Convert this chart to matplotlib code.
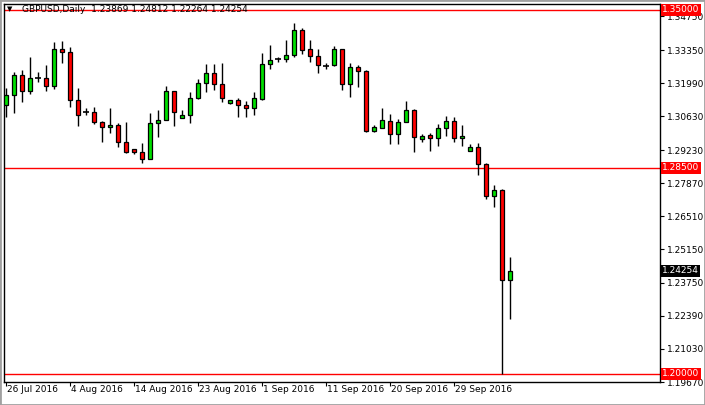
import matplotlib
matplotlib.use("Agg")
import matplotlib.pyplot as plt

opens = [1.3109,1.3150,1.3232,1.3166,1.3220,1.3220,1.3187,1.3339,1.3327,1.3129,1.3080,1.3080,1.3039,1.3018,1.3026,1.2956,
         1.2927,1.2915,1.2886,1.3034,1.3047,1.3166,1.3055,1.3067,1.3137,1.3199,1.3240,1.3195,1.3117,1.3129,1.3109,1.3096,
         1.3133,1.3278,1.3298,1.3298,1.3315,1.3418,1.3339,1.3310,1.3269,1.3273,1.3339,1.3195,1.3265,1.3249,1.3001,1.3014,
         1.3043,1.2989,1.3039,1.3088,1.2969,1.2985,1.2973,1.3014,1.3043,1.2973,1.2919,1.2936,1.2866,1.2734,1.2758,1.23869]
highs = [1.3179,1.3245,1.3253,1.3306,1.3245,1.3273,1.3368,1.3372,1.3348,1.3179,1.3096,1.3100,1.3041,1.3096,1.3034,1.3039,
         1.2929,1.2952,1.3076,1.3088,1.3187,1.3168,1.3088,1.3162,1.3216,1.3278,1.3278,1.3282,1.3130,1.3137,1.3125,1.3162,
         1.3323,1.3356,1.3306,1.3376,1.3446,1.3426,1.3376,1.3339,1.3282,1.3352,1.3341,1.3282,1.3273,1.3253,1.3026,1.3096,
         1.3072,1.3051,1.3125,1.3092,1.2989,1.2993,1.3030,1.3063,1.3059,1.3026,1.2948,1.2952,1.2868,1.2779,1.2762,1.24812]
lows = [1.3059,1.3076,1.3121,1.3154,1.3203,1.3166,1.3175,1.3282,1.3100,1.3022,1.3067,1.3030,1.2956,1.2993,1.2936,1.2911,
        1.2907,1.2870,1.2884,1.2977,1.3045,1.3022,1.3053,1.3034,1.3133,1.3162,1.3170,1.3121,1.3113,1.3059,1.3059,1.3067,
        1.3131,1.3257,1.3286,1.3286,1.3306,1.3319,1.3286,1.3240,1.3257,1.3271,1.3170,1.3142,1.3183,1.2997,1.2999,1.3012,
        1.2948,1.2948,1.3037,1.2915,1.2956,1.2919,1.2940,1.2981,1.2956,1.2940,1.2917,1.2820,1.2721,1.2688,1.1998,1.22264]
closes = [1.3150,1.3232,1.3166,1.3220,1.3222,1.3187,1.3339,1.3327,1.3129,1.3067,1.3078,1.3039,1.3018,1.3026,1.2956,1.2915,
          1.2915,1.2886,1.3034,1.3047,1.3166,1.3080,1.3067,1.3137,1.3199,1.3240,1.3195,1.3137,1.3129,1.3109,1.3096,1.3137,
          1.3278,1.3294,1.3296,1.3315,1.3418,1.3335,1.3310,1.3273,1.3267,1.3339,1.3195,1.3265,1.3249,1.3001,1.3018,1.3047,
          1.2989,1.3039,1.3088,1.2977,1.2981,1.2973,1.3014,1.3043,1.2973,1.2981,1.2936,1.2866,1.2734,1.2758,1.2387,1.24254]
date_labels = ["26 Jul 2016","4 Aug 2016","14 Aug 2016","23 Aug 2016","1 Sep 2016","11 Sep 2016","20 Sep 2016","29 Sep 2016"]
date_idx = [0,8,16,24,32,40,48,56]
price_ticks = [1.34750,1.33350,1.31990,1.30630,1.29230,1.27870,1.26510,1.25150,1.23750,1.22390,1.21030,1.19670]
levels = [1.35000,1.28500,1.20000]
last_price = 1.24254

W, H = 705, 405
fig = plt.figure(figsize=(W/100, H/100), dpi=100)
fig.patch.set_facecolor("white")
# grey window frame
fig.add_artist(plt.Rectangle((0, 0), 1, 1, transform=fig.transFigure, fill=False, ec="#a0a0a0", lw=2))
ax = fig.add_axes([4/W, (H-382)/H, 656/W, 378/H])
ax.set_xlim(-0.25, 81.75)
ax.set_ylim(1.19674, 1.35247)

n = len(opens)
for i in range(n):
    o, h, l, c = opens[i], highs[i], lows[i], closes[i]
    ax.vlines(i, l, h, color="black", lw=1, zorder=2)
    bot, top = min(o, c), max(o, c)
    if top - bot < 0.0003:
        ax.hlines((o+c)/2, i-0.35, i+0.35, color="black", lw=1.2, zorder=3)
    else:
        ax.bar(i, top-bot, bottom=bot, width=0.62, color="#00e000" if c > o else "#ff0000",
               edgecolor="black", lw=0.9, zorder=3)

for lv in levels:
    ax.axhline(lv, color="red", lw=1, zorder=1)

ax.yaxis.tick_right()
ax.set_yticks(price_ticks)
ax.set_yticklabels([f"{t:.5f}" for t in price_ticks], fontsize=6.5)
ax.tick_params(axis="y", length=3, pad=2)
ax.set_xticks(date_idx)
ax.set_xticklabels([])
ax.tick_params(axis="x", length=3)
for k, lab in zip(date_idx, date_labels):
    ax.text(k + 0.15, -0.008, lab, transform=ax.get_xaxis_transform(), fontsize=6.5, ha="left", va="top")
for lv in levels:
    ax.text(1.003, lv, f"{lv:.5f}", transform=ax.get_yaxis_transform(), fontsize=6.5, color="white",
            va="center", ha="left", bbox=dict(boxstyle="square,pad=0.15", fc="red", ec="none"), zorder=5)
ax.text(1.003, last_price, f"{last_price:.5f}", transform=ax.get_yaxis_transform(), fontsize=6.5, color="white",
        va="center", ha="left", bbox=dict(boxstyle="square,pad=0.15", fc="black", ec="none"), zorder=5)
for s in ax.spines.values():
    s.set_color("black")
    s.set_linewidth(1)

ax.text(0.004, 0.995, "\u25BC", transform=ax.transAxes, fontsize=5, va="top", ha="left")
ax.text(0.028, 0.997, f"GBPUSD,Daily  {opens[-1]:.5f} {highs[-1]:.5f} {lows[-1]:.5f} {closes[-1]:.5f}",
        transform=ax.transAxes, fontsize=6.5, va="top", ha="left")

fig.savefig("out.png", dpi=100)
